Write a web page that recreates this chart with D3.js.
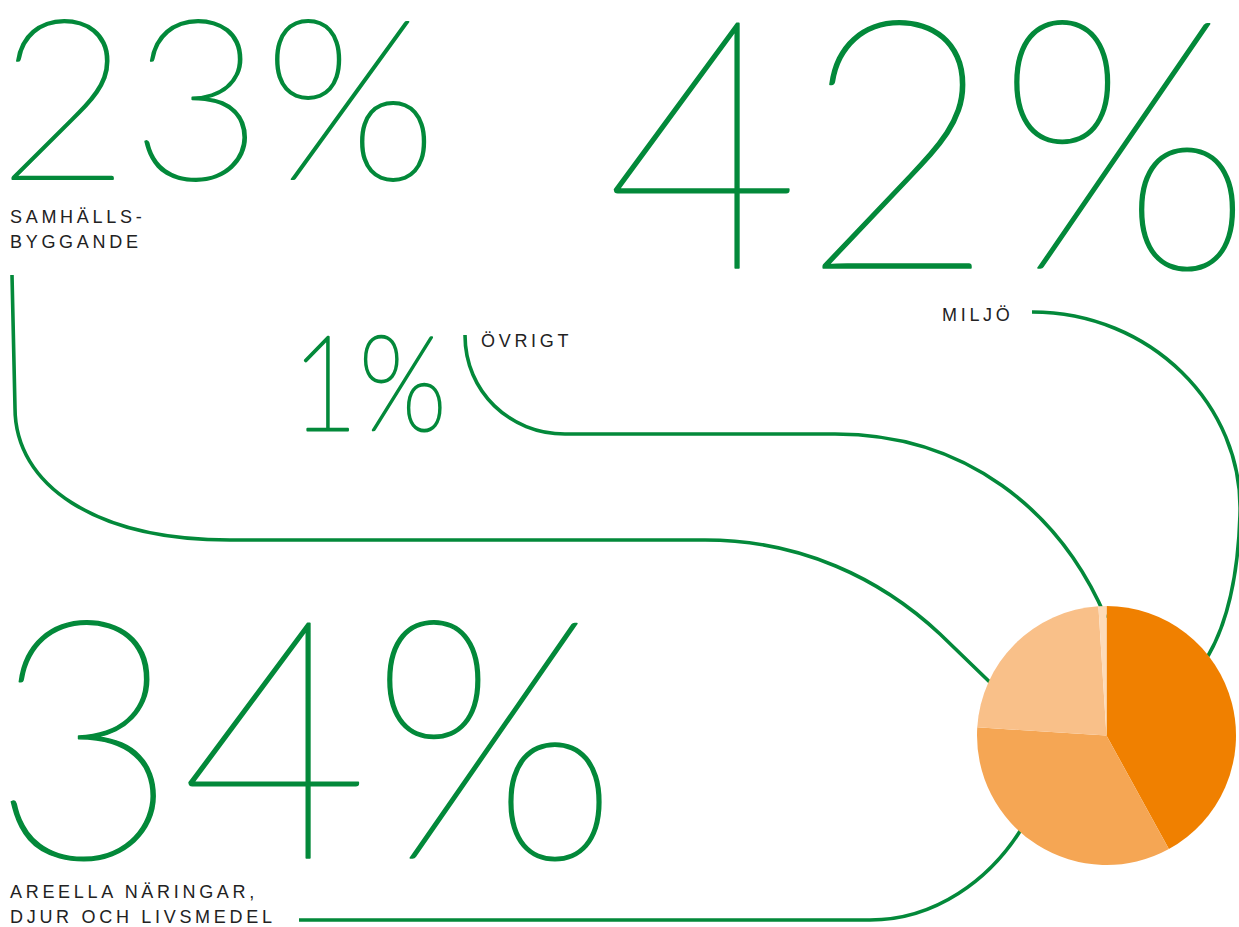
<!DOCTYPE html>
<html><head><meta charset="utf-8">
<script src="https://cdn.jsdelivr.net/npm/d3@7"></script>
<style>
html,body{margin:0;padding:0;background:#fff;}
svg{display:block;}
</style></head>
<body>
<svg id="chart" width="1239" height="927"></svg>
<script>
// ---- data ----
const categories = ["Miljö", "Areella näringar, djur och livsmedel", "Samhällsbyggande", "Övrigt"];
const values = [42, 34, 23, 1];
const labelLines = [["MILJÖ"], ["AREELLA NÄRINGAR,", "DJUR OCH LIVSMEDEL"], ["SAMHÄLLS-", "BYGGANDE"], ["ÖVRIGT"]];
const sliceColors = ["#f08000", "#f5a654", "#f9c089", "#fddbb9"];

// ---- layout ----
const green = "#03893a";
const svg = d3.select("#chart");
const cx = 1106.5, cy = 735.5, r = 129.5;

const bigLayout = [
  {x: 605, y: 268, w: 648, fs: 349, sw: 1.6},
  {x: -10, y: 858, w: 629, fs: 335, sw: 1.6},
  {x: -3, y: 180, w: 441, fs: 225, sw: 1.8},
  {x: 291, y: 430, w: 156, fs: 132, sw: 2.4}
];
const labelLayout = [
  {x: 942, y: 320.5},
  {x: 10, y: 897.5},
  {x: 10, y: 222.5},
  {x: 481, y: 346.5}
];

function connector(i) {
  const p = d3.path();
  if (i === 0) {
    p.moveTo(1032, 312);
    p.bezierCurveTo(1150, 312, 1244, 405, 1240, 515);
    p.bezierCurveTo(1238, 580, 1226, 625, 1208, 656);
  } else if (i === 1) {
    p.moveTo(299, 920);
    p.lineTo(870, 920);
    p.bezierCurveTo(935, 920, 990, 880, 1022, 828);
  } else if (i === 2) {
    p.moveTo(12, 275);
    p.lineTo(15, 408);
    p.bezierCurveTo(15, 485, 95, 540, 230, 540);
    p.lineTo(705, 540);
    p.bezierCurveTo(800, 540, 880, 578, 940, 634);
    p.lineTo(1000, 692);
  } else {
    p.moveTo(465, 335);
    p.bezierCurveTo(465, 392, 510, 434, 565, 434);
    p.lineTo(835, 434);
    p.bezierCurveTo(965, 434, 1060, 510, 1106, 618);
  }
  return p.toString();
}

svg.append("g").selectAll("path")
  .data(values)
  .join("path")
  .attr("d", (d, i) => connector(i))
  .attr("fill", "none")
  .attr("stroke", green)
  .attr("stroke-width", 3.6);

const pie = d3.pie().sort(null).value(d => d);
const arc = d3.arc().innerRadius(0).outerRadius(r);
svg.append("g").attr("transform", `translate(${cx},${cy})`)
  .selectAll("path")
  .data(pie(values))
  .join("path")
  .attr("d", arc)
  .attr("fill", (d, i) => sliceColors[i]);

svg.append("g").selectAll("text")
  .data(values)
  .join("text")
  .attr("x", (d, i) => bigLayout[i].x)
  .attr("y", (d, i) => bigLayout[i].y)
  .attr("textLength", (d, i) => bigLayout[i].w)
  .attr("lengthAdjust", "spacingAndGlyphs")
  .attr("font-family", "Lato, sans-serif")
  .attr("font-weight", 100)
  .attr("font-size", (d, i) => bigLayout[i].fs)
  .attr("fill", green)
  .attr("stroke", green)
  .attr("stroke-width", (d, i) => bigLayout[i].sw)
  .attr("stroke-linejoin", "round")
  .text(d => d + "%");

const lg = svg.append("g");
labelLines.forEach((lines, i) => {
  const t = lg.append("text")
    .attr("x", labelLayout[i].x)
    .attr("y", labelLayout[i].y)
    .attr("font-family", "'Liberation Sans', Arial, sans-serif")
    .attr("font-size", 18)
    .attr("letter-spacing", "3.7px")
    .attr("fill", "#222");
  lines.forEach((ln, j) => {
    t.append("tspan").attr("x", labelLayout[i].x).attr("dy", j === 0 ? 0 : 25.5).text(ln);
  });
});
</script>
</body></html>
